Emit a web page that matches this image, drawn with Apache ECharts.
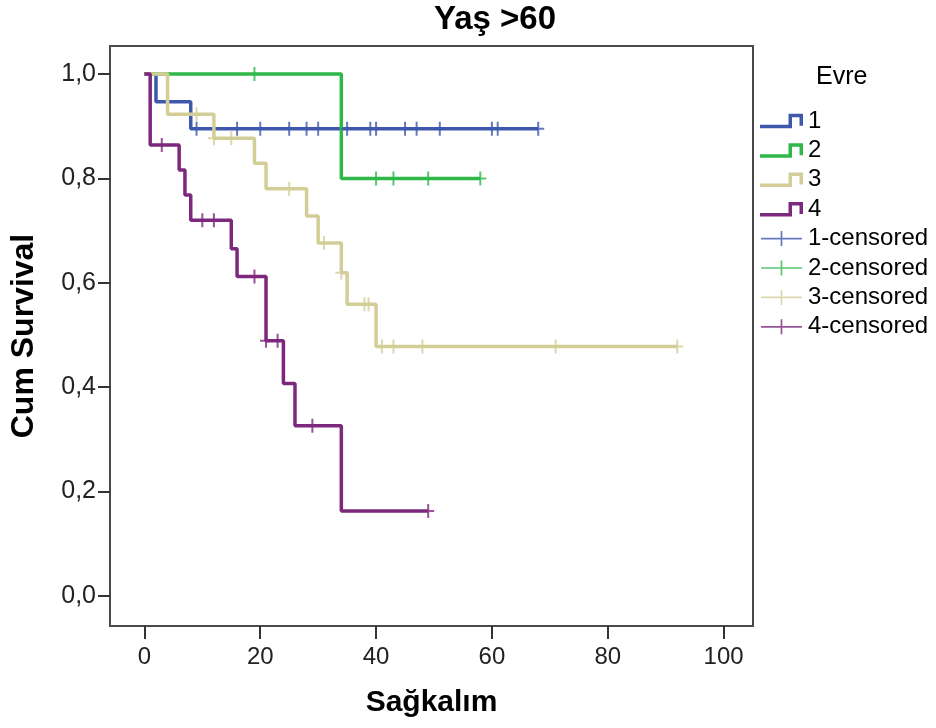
<!DOCTYPE html>
<html>
<head>
<meta charset="utf-8">
<title>Yaş >60</title>
<script src="https://cdn.jsdelivr.net/npm/echarts@6/dist/echarts.min.js"></script>
<style>
  html, body { margin: 0; padding: 0; background: #ffffff; }
  #chart { width: 936px; height: 728px; }
</style>
</head>
<body>
<div id="chart"></div>
<script>
// Kaplan–Meier survival by stage (Evre), patients older than 60.
const stages = ['1', '2', '3', '4'];
const stageColors = ['#3e58ac', '#2eb848', '#d3ce97', '#7c287d'];

// Step curves: event times and cumulative survival after each step
const stage1Time = [0, 2, 8, 68];
const stage1Surv = [1, 0.947, 0.895, 0.895];
const stage2Time = [0, 34, 58];
const stage2Surv = [1, 0.8, 0.8];
const stage3Time = [0, 4, 12, 19, 21, 28, 30, 34, 35, 40, 92];
const stage3Surv = [1, 0.923, 0.877, 0.829, 0.780, 0.728, 0.676, 0.619, 0.559, 0.478, 0.478];
const stage4Time = [0, 1, 6, 7, 8, 15, 16, 21, 24, 26, 34, 49];
const stage4Surv = [1, 0.864, 0.816, 0.768, 0.720, 0.665, 0.612, 0.489, 0.407, 0.326, 0.163, 0.163];

// Censored observations
const cens1Time = [9, 16, 20, 25, 28, 30, 35, 39, 40, 45, 47, 51, 60, 61, 68];
const cens1Surv = [0.895, 0.895, 0.895, 0.895, 0.895, 0.895, 0.895, 0.895, 0.895, 0.895, 0.895, 0.895, 0.895, 0.895, 0.895];
const cens2Time = [19, 40, 43, 49, 58];
const cens2Surv = [1, 0.8, 0.8, 0.8, 0.8];
const cens3Time = [9, 12, 15, 25, 31, 34, 38, 38.7, 41, 43, 48, 71, 92];
const cens3Surv = [0.923, 0.877, 0.877, 0.780, 0.676, 0.619, 0.559, 0.559, 0.478, 0.478, 0.478, 0.478, 0.478];
const cens4Time = [3, 10, 12, 19, 21, 23, 29, 49];
const cens4Surv = [0.864, 0.720, 0.720, 0.612, 0.489, 0.489, 0.326, 0.163];

// Axis ticks
const xTicks = [0, 20, 40, 60, 80, 100];
const yTicks = [0, 0.2, 0.4, 0.6, 0.8, 1.0];

const curveTimes = [stage1Time, stage2Time, stage3Time, stage4Time];
const curveSurvs = [stage1Surv, stage2Surv, stage3Surv, stage4Surv];
const censTimes = [cens1Time, cens2Time, cens3Time, cens4Time];
const censSurvs = [cens1Surv, cens2Surv, cens3Surv, cens4Surv];

const FONT = '"Liberation Sans", Arial, sans-serif';
const PLUS = 'path://M5,0h2v14h-2z M0,6h12v2h-12z';
const STEP_ICON = 'path://M0,11h32v3.5h-32z M28.5,0h3.5v14.5h-3.5z M28.5,0h14.5v3.5h-14.5z M39.5,0h3.5v12h-3.5z';
const CENS_ICON = 'path://M0,7h43v1.8h-43z M20.6,0h1.8v15.8h-1.8z';

const pair = (xs, ys) => xs.map((x, i) => [x, ys[i]]);

const series = [];
stages.forEach((s, i) => {
  series.push({
    type: 'line',
    name: s,
    data: pair(curveTimes[i], curveSurvs[i]),
    step: 'end',
    symbol: 'none',
    showSymbol: false,
    silent: true,
    z: 2 + i,
    lineStyle: { width: 3.5, color: stageColors[i] },
    itemStyle: { color: stageColors[i] }
  });
});
stages.forEach((s, i) => {
  series.push({
    type: 'scatter',
    name: s + '-censored',
    data: pair(censTimes[i], censSurvs[i]),
    symbol: PLUS,
    symbolSize: [12, 14],
    silent: true,
    z: 10,
    itemStyle: { color: stageColors[i] }
  });
});

const legendData = stages.map(s => ({ name: s, icon: STEP_ICON }))
  .concat(stages.map(s => ({ name: s + '-censored', icon: CENS_ICON })));

const chart = echarts.init(document.getElementById('chart'), null, { renderer: 'canvas' });
chart.setOption({
  animation: false,
  backgroundColor: '#ffffff',
  textStyle: { fontFamily: FONT },
  grid: {
    left: 108, right: 183, top: 46, bottom: 102,
    show: true, borderColor: '#4a4a4a', borderWidth: 2,
    backgroundColor: 'transparent'
  },
  graphic: [
    {
      type: 'text', x: 495, y: 20,
      style: { text: 'Yaş >60', font: 'bold 33px ' + FONT, fill: '#000', textAlign: 'center', textVerticalAlign: 'middle' }
    },
    {
      type: 'text', x: 816, y: 77,
      style: { text: 'Evre', font: '25px ' + FONT, fill: '#000', textAlign: 'left', textVerticalAlign: 'middle' }
    }
  ],
  legend: {
    data: legendData,
    orient: 'vertical',
    left: 760, top: 109,
    padding: 0,
    itemWidth: 43, itemHeight: 15, itemGap: 5.4,
    selectedMode: false,
    textStyle: { fontSize: 24, color: '#000', fontFamily: FONT }
  },
  xAxis: {
    type: 'value',
    min: -5.94, max: 105.08,
    axisLine: { show: false, onZero: false },
    splitLine: { show: false },
    axisTick: { show: true, customValues: xTicks, length: 13, lineStyle: { color: '#333', width: 2 } },
    axisLabel: { customValues: xTicks, margin: 19, fontSize: 24, color: '#222', fontFamily: FONT },
    name: 'Sağkalım',
    nameLocation: 'middle',
    nameGap: 77,
    nameTextStyle: { fontSize: 30, fontWeight: 'bold', color: '#000', fontFamily: FONT, verticalAlign: 'middle' }
  },
  yAxis: {
    type: 'value',
    min: -0.0575, max: 1.0536,
    axisLine: { show: false, onZero: false },
    splitLine: { show: false },
    axisTick: { show: true, customValues: yTicks, length: 12, lineStyle: { color: '#333', width: 2 } },
    axisLabel: {
      customValues: yTicks, margin: 14, fontSize: 25, color: '#222', fontFamily: FONT,
      formatter: v => v.toFixed(1).replace('.', ',')
    },
    name: 'Cum Survival',
    nameLocation: 'middle',
    nameGap: 86,
    nameTextStyle: { fontSize: 32, fontWeight: 'bold', color: '#000', fontFamily: FONT, verticalAlign: 'middle' }
  },
  series: series
});
</script>
</body>
</html>
